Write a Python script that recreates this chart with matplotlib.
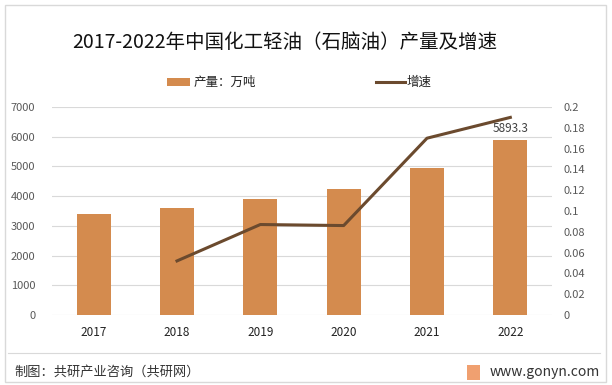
import matplotlib.pyplot as plt
import numpy as np
from matplotlib.patches import Rectangle
from matplotlib.lines import Line2D

plt.rcParams['font.family'] = ['Noto Sans CJK SC', 'DejaVu Sans']

years = ['2017', '2018', '2019', '2020', '2021', '2022']
output = [3408, 3585, 3897, 4232, 4952, 5893.3]
growth_years = ['2018', '2019', '2020', '2021', '2022']
growth = [0.052, 0.087, 0.086, 0.170, 0.190]

bar_color = '#D48B4E'
line_color = '#6B4A2E'
tick_color = '#595959'

fig = plt.figure(figsize=(6.12, 3.85), dpi=100)

# outer border
fig.patches.append(Rectangle((5 / 612, 3 / 385), 601 / 612, 377 / 385, transform=fig.transFigure,
                             fill=False, edgecolor='#D9D9D9', linewidth=1))

ax = fig.add_axes([52 / 612, 1 - 315 / 385, 500 / 612, 208 / 385])
x = np.arange(len(years))
ax.bar(x, output, width=0.41, color=bar_color, zorder=2)
ax.set_xlim(-0.5, len(years) - 0.5)
ax.set_ylim(0, 7000)
ax.set_yticks(range(0, 7001, 1000))
ax.set_xticks(x)
ax.set_xticklabels(years, fontsize=8.5, color='#222222')
ax.tick_params(axis='both', length=0)
ax.tick_params(axis='y', labelsize=8, labelcolor=tick_color, pad=12)
ax.tick_params(axis='x', pad=8)
ax.grid(axis='y', color='#D9D9D9', linewidth=0.8, zorder=0)
for s in ax.spines.values():
    s.set_visible(False)

ax2 = ax.twinx()
gx = [years.index(y) for y in growth_years]
ax2.plot(gx, growth, color=line_color, linewidth=2.2, zorder=3)
ax2.set_ylim(0, 0.2)
ticks2 = np.round(np.arange(0, 0.2001, 0.02), 2)
ax2.set_yticks(ticks2)
ax2.set_yticklabels([('%g' % t) for t in ticks2])
ax2.tick_params(axis='y', length=0, labelsize=8, labelcolor=tick_color, pad=8)
for s in ax2.spines.values():
    s.set_visible(False)
ax2.text(x[-1], output[-1] * 0.2 / 7000 + 0.0045, '5893.3', ha='center', va='bottom', fontsize=8.5,
         color='#404040', zorder=2)

fig.text(285 / 612, 1 - 42 / 385, '2017-2022年中国化工轻油（石脑油）产量及增速', ha='center', va='center',
         fontsize=14, color='#111111')

# legend
fig.patches.append(Rectangle((167 / 612, 1 - 86 / 385), 23 / 612, 8 / 385, transform=fig.transFigure,
                             facecolor=bar_color, edgecolor='none'))
fig.text(194 / 612, 1 - 82 / 385, '产量：万吨', ha='left', va='center', fontsize=9, color='#222222')
fig.lines.append(Line2D([376 / 612, 405 / 612], [1 - 82 / 385, 1 - 82 / 385], transform=fig.transFigure,
                        color=line_color, linewidth=2.2))
fig.text(407 / 612, 1 - 82 / 385, '增速', ha='left', va='center', fontsize=9, color='#222222')

# footer
fig.lines.append(Line2D([8 / 612, 600 / 612], [1 - 353 / 385, 1 - 353 / 385], transform=fig.transFigure,
                        color='#D9D9D9', linewidth=0.8))
fig.text(14 / 612, 1 - 372 / 385, '制图：共研产业咨询（共研网）', ha='left', va='center', fontsize=9.5, color='#333333')
fig.patches.append(Rectangle((467 / 612, 1 - 380 / 385), 13 / 612, 15 / 385, transform=fig.transFigure,
                             facecolor='#F0A070', edgecolor='none'))
fig.text(600 / 612, 1 - 372 / 385, 'www.gonyn.com', ha='right', va='center', fontsize=10, color='#333333')

fig.savefig('out.png', dpi=100)
